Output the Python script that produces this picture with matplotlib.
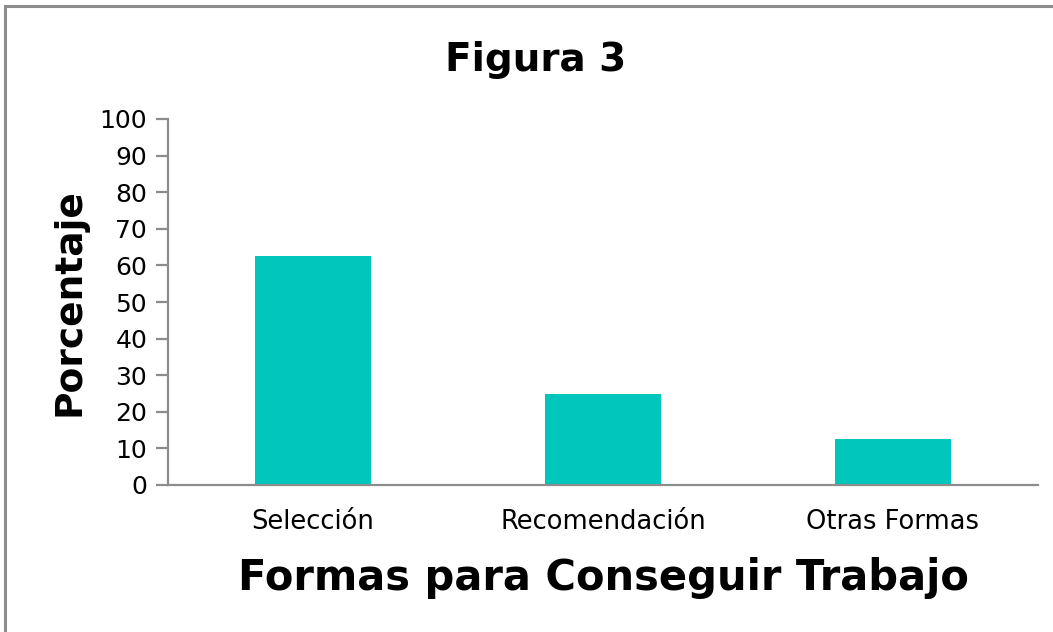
import matplotlib
matplotlib.use("Agg")
import matplotlib.pyplot as plt
from matplotlib.patches import Rectangle

categories = ["Selección", "Recomendación", "Otras Formas"]
values = [62.5, 25, 12.5]
yticks = [0, 10, 20, 30, 40, 50, 60, 70, 80, 90, 100]

W, H = 1053, 632
fig = plt.figure(figsize=(W / 100, H / 100), dpi=100)
plt.rcParams['font.family'] = ['DejaVu Sans']

# outer border
fig.patches.append(Rectangle((5 / W, -0.05), 1.2, 1 - 6 / H + 0.05, transform=fig.transFigure,
                             fill=False, edgecolor="#8c8c8c", linewidth=2.2))

ax = fig.add_axes([168 / W, 1 - 485 / H, (1038 - 168) / W, (485 - 119) / H])
x = list(range(len(categories)))
ax.bar(x, values, width=0.4, color="#00c6bb")
ax.set_xlim(-0.5, len(categories) - 0.5)
ax.set_ylim(0, 100)
ax.set_yticks(yticks)
ax.set_yticklabels([str(t) for t in yticks])
ax.set_xticks(x)
ax.set_xticklabels(categories)

for s in ["top", "right"]:
    ax.spines[s].set_visible(False)
for s in ["left", "bottom"]:
    ax.spines[s].set_color("#8c8c8c")
    ax.spines[s].set_linewidth(1.6)

ax.tick_params(axis="y", length=9, width=1.6, color="#8c8c8c", labelsize=18, pad=6, labelcolor="black")
ax.tick_params(axis="x", length=0, labelsize=18.5, pad=17, labelcolor="black")

ax.set_ylabel("Porcentaje", fontsize=27, fontweight="bold", labelpad=9)
ax.set_xlabel("Formas para Conseguir Trabajo", fontsize=30, fontweight="bold", labelpad=16)
fig.text(536 / W, 1 - 60 / H, "Figura 3", fontsize=28, fontweight="bold", ha="center", va="center")

fig.savefig("out.png", dpi=100)
